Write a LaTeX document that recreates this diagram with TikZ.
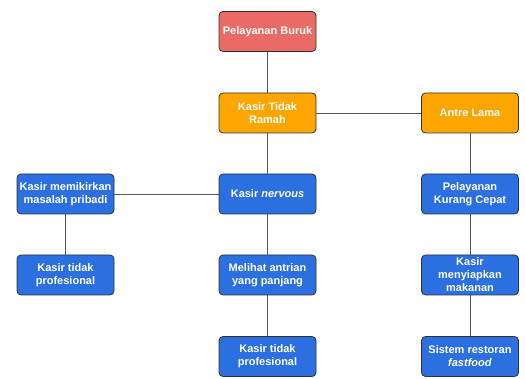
\documentclass[tikz,border=0pt]{standalone}
\usepackage{fontspec}
\setmainfont{Liberation Sans}
\definecolor{merah}{HTML}{EA6B66}
\definecolor{oranye}{HTML}{FFA500}
\definecolor{biru}{HTML}{2B6FE0}
\definecolor{tepi}{HTML}{333333}
\definecolor{garis}{HTML}{555555}
\begin{document}
\begin{tikzpicture}[x=1pt,y=-1pt,
    kotak/.style={draw=tepi,line width=.8pt,rounded corners=4pt,
      minimum width=97pt,minimum height=40pt,inner sep=1pt,align=center,
      text=white,font=\fontsize{11}{13}\selectfont\bfseries},
    akar/.style={kotak,fill=merah},
    sebab/.style={kotak,fill=oranye},
    akibat/.style={kotak,fill=biru},
    hub/.style={draw=garis,line width=.8pt}]
      \useasboundingbox(0,0)rectangle(525,379);
      \node[akar]  (buruk)   at (267.5,31.5) {Pelayanan Buruk};
      \node[sebab] (ramah)   at (267.5,113)  {Kasir Tidak\\Ramah};
      \node[sebab] (antre)   at (470,113)    {Antre Lama};
      \node[akibat](nervous) at (267.5,194)  {Kasir \textit{nervous}};
      \node[akibat](pikir)   at (65.5,194)   {Kasir memikirkan\\masalah pribadi};
      \node[akibat](cepat)   at (470,194)    {Pelayanan\\Kurang Cepat};
      \node[akibat](prof1)   at (65.5,275)   {Kasir tidak\\profesional};
      \node[akibat](lihat)   at (267.5,275)  {Melihat antrian\\yang panjang};
      \node[akibat](siap)    at (470,275)    {Kasir\\menyiapkan\\makanan};
      \node[akibat](prof2)   at (267.5,356.5){Kasir tidak\\profesional};
      \node[akibat](sistem)  at (470,356.5)  {Sistem restoran\\\textit{fastfood}};
      \draw[hub](buruk)--(ramah) (ramah)--(antre) (ramah)--(nervous)
           (nervous)--(pikir) (pikir)--(prof1)
           (nervous)--(lihat) (lihat)--(prof2)
           (antre)--(cepat) (cepat)--(siap) (siap)--(sistem);
    \end{tikzpicture}
\end{document}
